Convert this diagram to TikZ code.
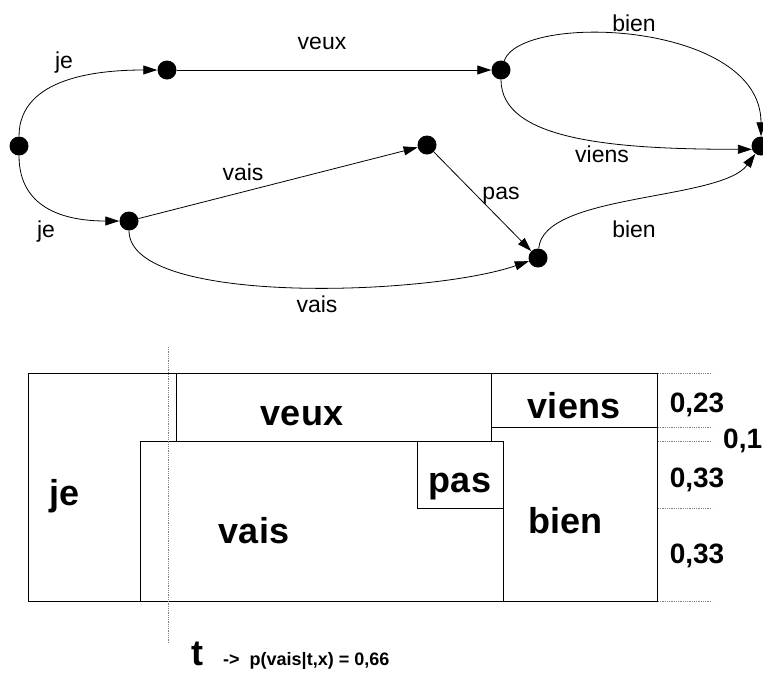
\documentclass[tikz,border=0pt]{standalone}
\usepackage{fontspec}
\setmainfont{Liberation Sans}
\usetikzlibrary{arrows.meta}
\begin{document}
\begin{tikzpicture}[x=1pt,y=-1pt,
  st/.style={circle,fill=black,inner sep=0pt,minimum size=19pt},
  edge/.style={line width=0.8pt,-{Triangle[length=14pt,width=9pt]}},
  elab/.style={font=\fontsize{23}{26}\selectfont,anchor=base,inner sep=0pt},
  blab/.style={font=\fontsize{36}{40}\selectfont\bfseries,anchor=base,inner sep=0pt},
  nlab/.style={font=\fontsize{28}{32}\selectfont\bfseries,anchor=base,inner sep=0pt},
  box/.style={draw,line width=0.9pt},
  tick/.style={densely dotted,line width=0.8pt,gray}]
\useasboundingbox (0,0) rectangle (763,673);

% graph nodes
\node[st] (A) at (19,146) {};
\node[st] (B) at (167,70) {};
\node[st] (C) at (129,221) {};
\node[st] (D) at (501,70) {};
\node[st] (E) at (761,146) {};
\node[st] (F) at (427,145) {};
\node[st] (G) at (538,258) {};

% edges
\draw[edge] (A) .. controls +(0,-70) and +(-65,0) .. (B);
\draw[edge] (A) .. controls +(0,65) and +(-60,0) .. (C);
\draw[edge] (B) -- (D);
\draw[edge] (D) .. controls +(20,-58) and +(0,-125) .. (E);
\draw[edge] (D) .. controls +(0,70) and +(-140,0) .. (E.200);
\draw[edge] (C) -- (F);
\draw[edge] (F) -- (G);
\draw[edge] (C) .. controls +(0,85) and +(-110,38) .. (G);
\draw[edge] (G) .. controls +(5,-65) and +(-40,55) .. (E);

% edge labels
\node[elab] (l1) at (64,68) {je};
\node[elab] (l2) at (46,237) {je};
\node[elab] (l3) at (322,49) {veux};
\node[elab] (l4) at (243,180) {vais};
\node[elab] (l5) at (317,312) {vais};
\node[elab] (l6) at (634,31) {bien};
\node[elab] (l7) at (602,162) {viens};
\node[elab] (l8) at (501,199) {pas};
\node[elab] (l9) at (634,237) {bien};

% lattice boxes
\draw[box] (28,373) rectangle (657,601);
\draw[box] (140,441) rectangle (503,601);
\draw[box] (176,373) rectangle (491,441);
\draw[box] (491,427) -- (657,427);
\draw[box] (417,441) rectangle (503,508);

\node[blab] (bje) at (65,505) {je};
\node[blab] (bveux) at (302,425) {veux};
\node[blab] (bvais) at (254,543) {vais};
\node[blab] (bviens) at (574,418) {viens};
\node[blab] (bpas) at (460,492) {pas};
\node[blab] (bbien) at (565,533) {bien};

% ticks
\foreach \yy in {373,427,441,508,601} \draw[tick] (658,\yy) -- (712,\yy);
\draw[tick] (168,347) -- (168,643);

\node[nlab] (p1) at (697,412) {0,23};
\node[nlab,anchor=base west] (p2) at (723,448) {0,1};
\node[nlab] (p3) at (697,487) {0,33};
\node[nlab] (p4) at (697,563) {0,33};

\node[blab,text depth=0pt] (t) at (197,665) {t};
\node[font=\fontsize{18}{20}\selectfont\bfseries,anchor=base west,inner sep=0pt] (eq) at (223,665) {->\ \ p(vais|t,x) = 0,66};
\end{tikzpicture}
\end{document}
